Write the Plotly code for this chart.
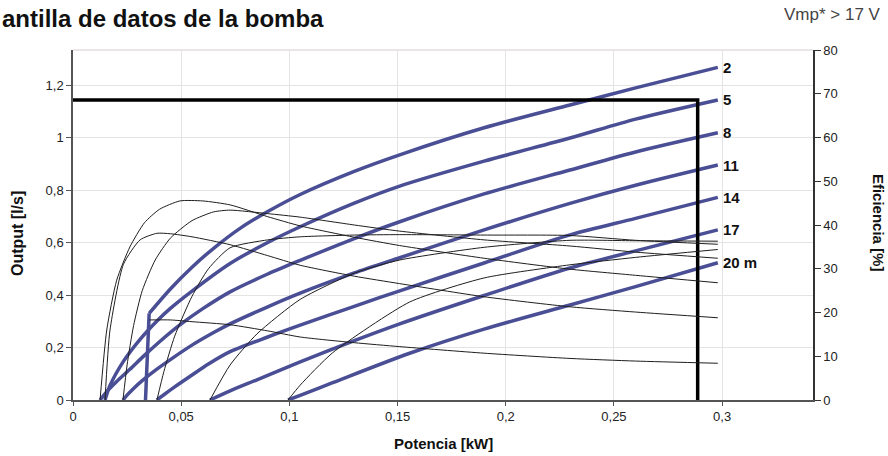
import plotly.graph_objects as go

# ---- data ----
heads = [2, 5, 8, 11, 14, 17, 20]
head_labels = ["2", "5", "8", "11", "14", "17", "20 m"]

# flow curves (Potencia [kW] -> Output [l/s])
p2 = [0.0335, 0.0352, 0.045, 0.055, 0.065, 0.0772, 0.09, 0.105, 0.13, 0.151, 0.19, 0.2297, 0.26, 0.298]
q2 = [0, 0.33, 0.423, 0.506, 0.578, 0.654, 0.718, 0.783, 0.871, 0.934, 1.037, 1.124, 1.189, 1.267]
p5 = [0.0148, 0.0171, 0.0233, 0.031, 0.0388, 0.045, 0.055, 0.0726, 0.09, 0.105, 0.13, 0.151, 0.19, 0.2297, 0.26, 0.298]
q5 = [0, 0.055, 0.147, 0.231, 0.301, 0.349, 0.415, 0.52, 0.60, 0.66, 0.75, 0.815, 0.91, 0.998, 1.07, 1.143]
p8 = [0.0125, 0.0156, 0.0202, 0.0263, 0.033, 0.04, 0.0494, 0.06, 0.0726, 0.09, 0.105, 0.13, 0.151, 0.19, 0.2297, 0.26, 0.298]
q8 = [0, 0.032, 0.0705, 0.117, 0.17, 0.222, 0.286, 0.348, 0.412, 0.48, 0.532, 0.615, 0.679, 0.785, 0.876, 0.945, 1.018]
p11 = [0.0231, 0.025, 0.028, 0.032, 0.038, 0.045, 0.055, 0.065, 0.0726, 0.09, 0.105, 0.13, 0.151, 0.19, 0.2297, 0.26, 0.298]
q11 = [0, 0.0185, 0.044, 0.074, 0.113, 0.154, 0.209, 0.257, 0.29, 0.355, 0.407, 0.484, 0.542, 0.648, 0.749, 0.818, 0.895]
p14 = [0.0388, 0.042, 0.047, 0.055, 0.0626, 0.0726, 0.09, 0.105, 0.13, 0.151, 0.19, 0.2297, 0.26, 0.298]
q14 = [0, 0.02, 0.05, 0.095, 0.137, 0.184, 0.24, 0.285, 0.357, 0.416, 0.522, 0.629, 0.692, 0.772]
p17 = [0.0633, 0.0726, 0.085, 0.105, 0.13, 0.151, 0.19, 0.2297, 0.26, 0.298]
q17 = [0, 0.035, 0.077, 0.145, 0.226, 0.29, 0.398, 0.503, 0.568, 0.648]
p20 = [0.0994, 0.105, 0.12, 0.1556, 0.19, 0.2297, 0.26, 0.298]
q20 = [0, 0.018, 0.066, 0.178, 0.27, 0.362, 0.432, 0.523]

# efficiency curves (Potencia [kW] -> Eficiencia [%])
ep2 = [0.0352, 0.045, 0.055, 0.0726, 0.09, 0.105, 0.13, 0.151, 0.19, 0.2297, 0.26, 0.298]
e2 = [18.3, 18.3, 17.9, 17.2, 15.8, 14.4, 13.1, 12.2, 10.7, 9.5, 8.9, 8.4]
e5 = [0, 16, 31, 36.6, 38.1, 38.0, 37.3, 35.5, 33.0, 30.8, 28.3, 26.6, 23.6, 21.3, 20.1, 18.8]
e8 = [0, 16, 27.4, 35, 40.5, 43.6, 45.5, 45.5, 44.6, 41.9, 39.8, 37.2, 35.3, 32.4, 29.9, 28.5, 26.8]
e11 = [0, 8, 17, 25, 32, 37, 41, 43, 43.4, 42.6, 41.8, 40, 38.6, 36.6, 35.2, 33.8, 32.4]
e14 = [0, 6.5, 14.6, 23.7, 30.0, 34.8, 36.6, 37.3, 37.7, 37.8, 37.7, 37.6, 36.5, 35.6]
e17 = [0, 8.0, 15.1, 23.0, 29.0, 32.0, 34.9, 36.5, 36.4, 36.3]
e20 = [0, 3.4, 10.8, 22.4, 27.9, 30.9, 32.6, 34.4]

# operating point (thick black guide)
op_power = 0.2887
op_flow = 1.143

x_ticks = [0, 0.05, 0.1, 0.15, 0.2, 0.25, 0.3]
y_ticks = [0, 0.2, 0.4, 0.6, 0.8, 1.0, 1.2]
y2_ticks = [0, 10, 20, 30, 40, 50, 60, 70, 80]

flow_p = [p2, p5, p8, p11, p14, p17, p20]
flow_q = [q2, q5, q8, q11, q14, q17, q20]
eff_p = [ep2, p5, p8, p11, p14, p17, p20]
eff_v = [e2, e5, e8, e11, e14, e17, e20]

BLUE = "#4a4e94"
FONT = "Liberation Sans, Arial, sans-serif"

fig = go.Figure()

for px, ev in zip(eff_p, eff_v):
    fig.add_trace(go.Scatter(x=px, y=ev, yaxis="y2", mode="lines",
                             line=dict(color="#1e1e1e", width=1, shape="spline", smoothing=0.6),
                             hoverinfo="skip"))

for h, px, qv in zip(heads, flow_p, flow_q):
    if h == 2:
        # the 2 m curve jumps straight up at start-up, then runs smoothly
        fig.add_trace(go.Scatter(x=px[:2], y=qv[:2], mode="lines",
                                 line=dict(color=BLUE, width=3.5), hoverinfo="skip"))
        fig.add_trace(go.Scatter(x=px[1:], y=qv[1:], mode="lines",
                                 line=dict(color=BLUE, width=3.5, shape="spline", smoothing=0.8),
                                 hoverinfo="skip"))
    else:
        fig.add_trace(go.Scatter(x=px, y=qv, mode="lines",
                                 line=dict(color=BLUE, width=3.5, shape="spline", smoothing=0.8),
                                 hoverinfo="skip"))

fig.add_trace(go.Scatter(x=[0, op_power, op_power], y=[op_flow, op_flow, 0], mode="lines",
                         line=dict(color="black", width=3.5), hoverinfo="skip"))

annotations = []
for px, qv, lab in zip(flow_p, flow_q, head_labels):
    annotations.append(dict(x=px[-1], y=qv[-1], xref="x", yref="y", text=lab, showarrow=False,
                            xanchor="left", yanchor="middle", xshift=3,
                            font=dict(family=FONT, size=15, color="#111", weight="bold")))

annotations += [
    dict(text="antilla de datos de la bomba", xref="paper", yref="paper", x=-0.0986, y=1.091,
         xanchor="left", yanchor="middle", showarrow=False,
         font=dict(family=FONT, size=24, color="#111", weight="bold")),
    dict(text="Vmp* &gt; 17 V", xref="paper", yref="paper", x=1.0946, y=1.1,
         xanchor="right", yanchor="middle", showarrow=False,
         font=dict(family=FONT, size=17, color="#444")),
    dict(text="Output [l/s]", xref="paper", yref="paper", x=-0.0757, y=0.477, textangle=-90,
         xanchor="center", yanchor="middle", showarrow=False,
         font=dict(family=FONT, size=16, color="#111", weight="bold")),
    dict(text="Eficiencia [%]", xref="paper", yref="paper", x=1.0878, y=0.506, textangle=90,
         xanchor="center", yanchor="middle", showarrow=False,
         font=dict(family=FONT, size=15, color="#111", weight="bold")),
    dict(text="Potencia [kW]", xref="paper", yref="paper", x=0.5, y=-0.1257,
         xanchor="center", yanchor="middle", showarrow=False,
         font=dict(family=FONT, size=15, color="#111", weight="bold")),
]

fig.update_layout(
    width=888, height=456,
    margin=dict(l=73, r=75, t=50, b=56),
    plot_bgcolor="white", paper_bgcolor="white",
    showlegend=False,
    separators=",.",
    font=dict(family=FONT, size=13, color="#222"),
    annotations=annotations,
    shapes=[dict(type="line", xref="paper", yref="paper", x0=0, x1=1, y0=1, y1=1,
                 line=dict(color="#e2dcdc", width=1.5), layer="below")],
    xaxis=dict(range=[0, 0.342], tickvals=x_ticks, showgrid=True, gridcolor="#e4e4e4",
               zeroline=False, showline=True, linecolor="#555", linewidth=1.5,
               ticks="outside", ticklen=4, tickcolor="#555"),
    yaxis=dict(range=[0, 4 / 3], tickvals=y_ticks, showgrid=True, gridcolor="#e4e4e4",
               zeroline=False, showline=True, linecolor="#555", linewidth=1.5,
               ticks="outside", ticklen=5, tickcolor="#555"),
    yaxis2=dict(range=[0, 80], tickvals=y2_ticks, overlaying="y", side="right",
                showgrid=False, zeroline=False, showline=True, linecolor="#333", linewidth=1.5,
                ticks="outside", ticklen=6, tickcolor="#333"),
)

fig.write_html("out.html", config={"displayModeBar": False},
               post_script="document.body.style.margin='0px';")
